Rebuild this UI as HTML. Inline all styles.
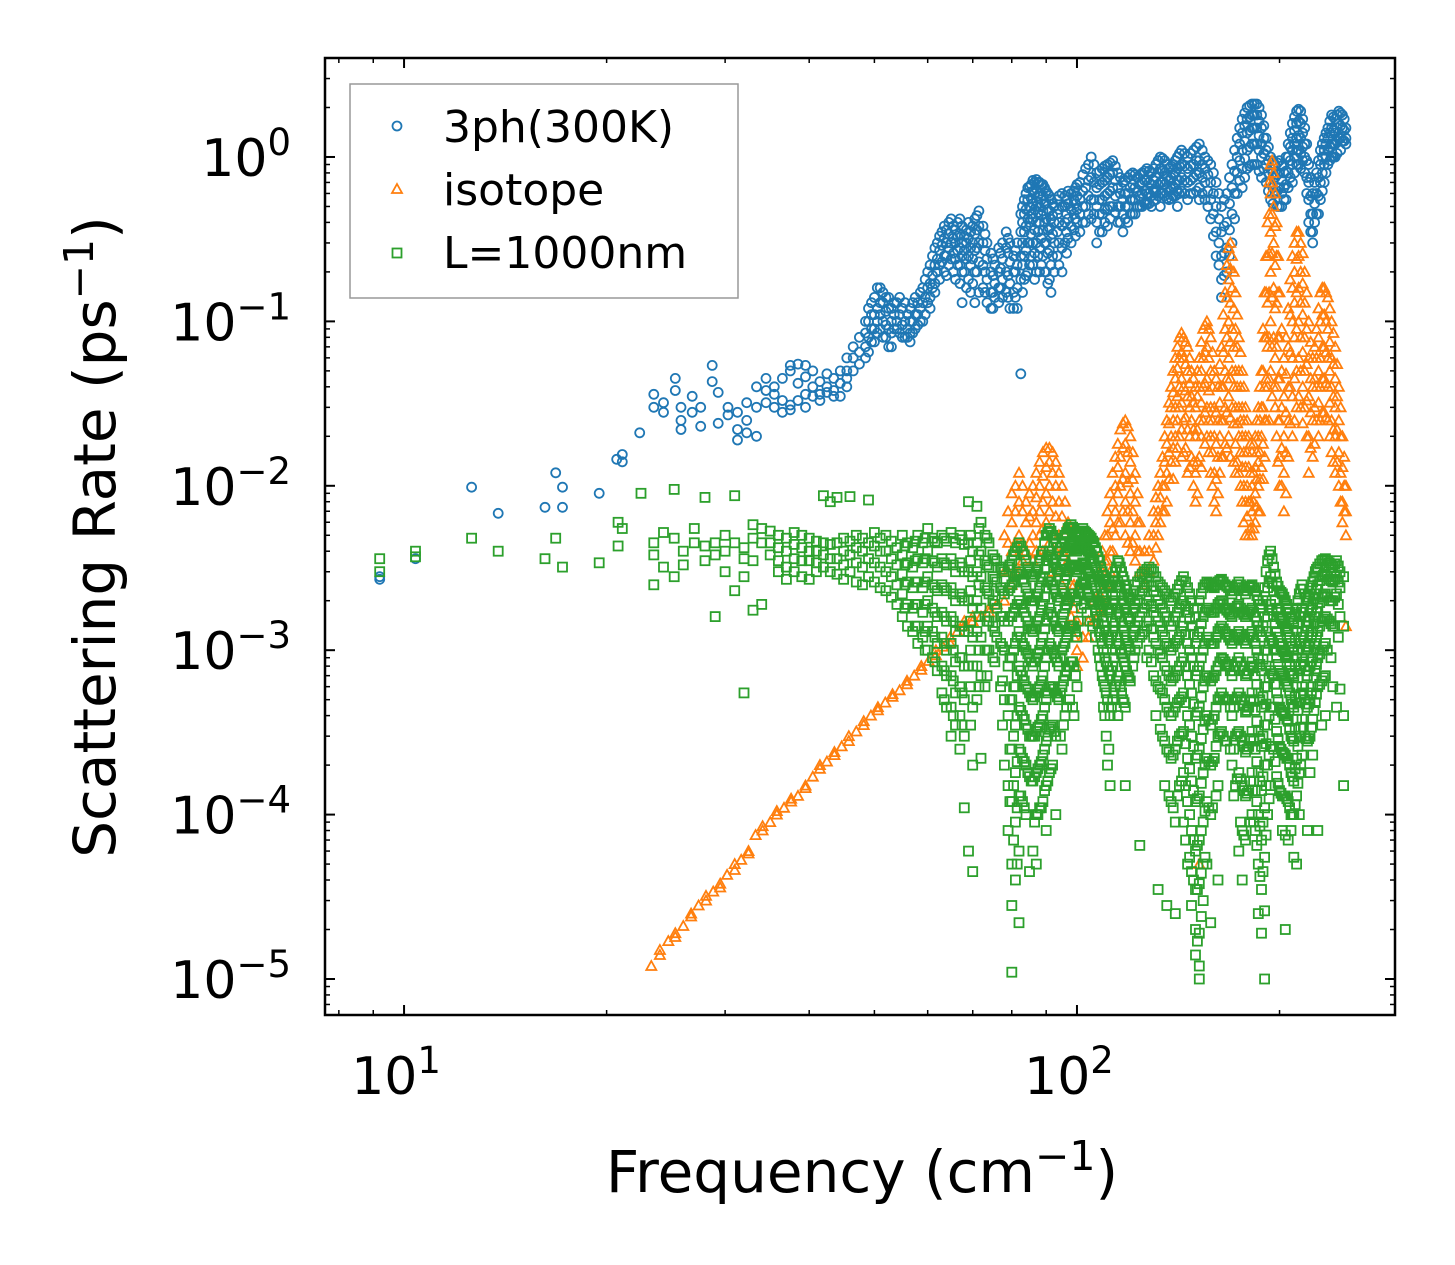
<!DOCTYPE html>
<html><head><meta charset="utf-8"><style>
html,body{margin:0;padding:0;background:#fff;}
svg{display:block;font-family:"DejaVu Sans","Liberation Sans",sans-serif;}
</style></head><body>
<svg id="chart" width="1455" height="1265" viewBox="0 0 1455 1265" xmlns="http://www.w3.org/2000/svg">
<rect width="1455" height="1265" fill="#fff"/>
<g id="marks"></g>
<g id="ticks"></g>
<rect x="325" y="58" width="1070" height="957" fill="none" stroke="#000" stroke-width="2.5"/>
<text x="862" y="1192" font-size="58" text-anchor="middle">Frequency (cm<tspan dy="-22" font-size="41">−1</tspan><tspan dy="22">)</tspan></text>
<text transform="translate(115,537) rotate(-90)" font-size="58" text-anchor="middle">Scattering Rate (ps<tspan dy="-22" font-size="41">−1</tspan><tspan dy="22">)</tspan></text>
<g>
<rect x="350" y="84" width="388" height="214" fill="#fff" stroke="#999" stroke-width="1.5"/>
<circle cx="397" cy="126" r="4.5" fill="none" stroke="#1f77b4" stroke-width="1.8"/>
<text x="443" y="142" font-size="44">3ph(300K)</text>
<polygon points="397,184 402,193 392,193" fill="none" stroke="#ff7f0e" stroke-width="1.8"/>
<text x="443" y="205" font-size="44">isotope</text>
<rect x="392.5" y="248.5" width="9" height="9" fill="none" stroke="#2ca02c" stroke-width="1.8"/>
<text x="443" y="268" font-size="44">L=1000nm</text>
</g>
</svg>
<script>
const blueData=[[9.2,[2.8e-3,2.7e-3]],[10.4,[3.6e-3]],[12.6,[9.8e-3]],[13.8,[6.8e-3]],[16.2,[7.4e-3]],[16.8,[1.2e-2]],[17.2,[9.8e-3,7.4e-3]],[19.5,[9e-3]],[20.7,[1.45e-2]],[21.1,[1.55e-2,1.4e-2]],[22.4,[0.021]],[23.5,[0.03,0.036]],[24.3,[0.032,0.028]],[25.3,[0.045,0.038]],[25.8,[0.025,0.03,0.022]],[26.8,[0.035,0.028]],[27.6,[0.023,0.03]],[28.7,[0.054,0.043]],[29.3,[0.024,0.037]],[30.3,[0.03,0.027]],[31.3,[0.022,0.019,0.028]],[32.3,[0.032,0.025,0.021]],[33.4,[0.04,0.03,0.02]],[34.5,[0.038,0.032,0.045]],[35.5,[0.04,0.036,0.03]],[36.5,[0.045,0.033,0.028]],[37.5,[0.054,0.05,0.031,0.029]],[38.5,[0.055,0.042,0.033]],[39.5,[0.054,0.046,0.036,0.03]],[40.5,[0.05,0.04,0.035]],[41.5,[0.043,0.036,0.033]],[42.5,[0.048,0.04,0.037]],[43.5,[0.045,0.038,0.035]],[44.5,[0.05,0.042,0.035]],[45.5,[0.06,0.05,0.045,0.04]],[46.5,[0.07,0.06,0.05]],[47.5,[0.08,0.065,0.055]],[48.5,[0.1,0.085,0.07,0.06]],[49.5,[0.13,0.11,0.09,0.075]],[50.5,[0.16,0.12,0.1,0.085]],[51.5,[0.15,0.13,0.1,0.08]],[52.5,[0.14,0.12,0.09,0.07]],[53.5,[0.13,0.11,0.09]],[54.5,[0.14,0.11,0.085]],[55.5,[0.13,0.1,0.08]],[56.5,[0.12,0.1,0.085,0.075]],[57.5,[0.14,0.11,0.09]],[58.5,[0.15,0.12,0.1]],[59.5,[0.18,0.14,0.11]],[60.5,[0.22,0.17,0.14,0.12]],[61.5,[0.28,0.22,0.17,0.15]],[62.5,[0.33,0.27,0.22,0.18]],[63.5,[0.38,0.32,0.25,0.2]],[64.5,[0.4,0.34,0.28,0.22]],[65.5,[0.38,0.32,0.26,0.2]],[66.5,[0.4,0.33,0.27,0.22]],[67.5,[0.38,0.3,0.25,0.2,0.13]],[68.5,[0.36,0.3,0.24,0.16]],[69.5,[0.35,0.28,0.22,0.15]],[70.5,[0.42,0.34,0.27,0.2,0.13]],[71.5,[0.47,0.38,0.3,0.23,0.15]],[72.5,[0.38,0.3,0.22,0.16]],[73.5,[0.3,0.24,0.18,0.13]],[74.5,[0.26,0.2,0.15,0.12]],[75.5,[0.22,0.17,0.14]],[76.5,[0.28,0.2,0.16,0.13]],[77.5,[0.3,0.24,0.18,0.14]],[78.5,[0.35,0.28,0.2,0.15]],[79.5,[0.3,0.23,0.17,0.12]],[80.5,[0.25,0.2,0.15,0.12]],[81.5,[0.3,0.22,0.16,0.12]],[82.5,[0.45,0.35,0.25,0.18,0.048]],[83.5,[0.55,0.45,0.35,0.25,0.18]],[84.5,[0.65,0.55,0.42,0.3,0.2]],[85.5,[0.68,0.56,0.45,0.34,0.25]],[86.5,[0.7,0.6,0.48,0.36,0.26,0.18]],[87.5,[0.7,0.58,0.46,0.35,0.25]],[88.5,[0.68,0.55,0.44,0.32,0.22]],[89.5,[0.65,0.52,0.4,0.3,0.2]],[90.5,[0.6,0.48,0.36,0.26,0.17]],[91.5,[0.55,0.42,0.32,0.22,0.15]],[92.5,[0.5,0.4,0.3,0.2]],[93.5,[0.55,0.45,0.35,0.25]],[95,[0.6,0.5,0.38,0.28,0.2]],[96.5,[0.55,0.45,0.35,0.26]],[98,[0.6,0.48,0.38,0.3]],[99.5,[0.65,0.52,0.42,0.33]],[101,[0.7,0.55,0.45,0.35]],[103,[0.85,0.65,0.5,0.4]],[105,[1.0,0.75,0.55,0.42]],[107,[0.8,0.65,0.5,0.4,0.3]],[109,[0.85,0.7,0.55,0.45,0.35]],[111,[0.9,0.75,0.6,0.48,0.38]],[113,[0.95,0.8,0.65,0.5]],[115,[0.8,0.65,0.5,0.4]],[117,[0.7,0.55,0.45,0.35]],[119,[0.75,0.6,0.5,0.4]],[121,[0.8,0.68,0.55,0.45]],[123,[0.75,0.62,0.5]],[125,[0.8,0.7,0.6,0.5]],[127,[0.85,0.72,0.6,0.52]],[129,[0.8,0.68,0.58,0.5]],[131,[0.9,0.75,0.62,0.55]],[133,[1.0,0.85,0.7,0.6,0.5]],[135,[0.95,0.8,0.68,0.58]],[137,[0.85,0.72,0.62,0.55]],[139,[0.9,0.78,0.66,0.58]],[141,[1.0,0.85,0.72,0.62,0.5]],[143,[1.1,0.9,0.75,0.62]],[146,[1.0,0.85,0.7,0.55]],[149,[1.1,0.9,0.75,0.6]],[152,[1.2,0.95,0.8,0.65,0.55]],[155,[1.0,0.85,0.7,0.55]],[158,[0.9,0.7,0.55,0.42]],[161,[0.7,0.5,0.35,0.25]],[164,[0.5,0.35,0.25,0.18,0.14]],[167,[0.6,0.4,0.28,0.2]],[170,[0.9,0.65,0.45,0.3]],[173,[1.3,1.0,0.8,0.6]],[176,[1.7,1.4,1.1,0.85,0.65]],[179,[2.0,1.7,1.4,1.1,0.85]],[182,[2.1,1.8,1.5,1.2,0.9]],[185,[2.1,1.8,1.5,1.2,0.9]],[188,[1.8,1.5,1.2,1.0,0.75]],[191,[1.3,1.1,0.9,0.7]],[194,[1.0,0.85,0.7,0.55]],[197,[0.9,0.75,0.6]],[200,[0.95,0.8,0.65,0.5]],[203,[0.8,0.65,0.55]],[206,[1.2,1.0,0.8,0.65]],[209,[1.6,1.3,1.1,0.9,0.7]],[212,[1.9,1.6,1.3,1.1,0.9]],[215,[1.9,1.6,1.3,1.05,0.85]],[218,[1.5,1.2,1.0,0.8]],[221,[0.9,0.7,0.55,0.4]],[224,[0.6,0.45,0.35,0.3]],[227,[0.8,0.6,0.45]],[230,[1.1,0.9,0.7,0.55]],[233,[1.3,1.1,0.9,0.7]],[236,[1.5,1.3,1.1,0.9]],[239,[1.8,1.5,1.2,1.0]],[242,[1.7,1.4,1.2,1.0]],[245,[1.9,1.6,1.3]],[248,[1.8,1.5,1.25]],[251,[1.5,1.3,1.2]]];
const blueExtra=[[49,[0.12,0.1,0.08,0.065]],[50,[0.14,0.11,0.09,0.075]],[51,[0.16,0.13,0.11,0.09]],[52,[0.14,0.115,0.095,0.08]],[53,[0.12,0.1,0.085,0.07]],[54,[0.13,0.1,0.09]],[55,[0.12,0.095,0.08]],[56,[0.11,0.09,0.08]],[57,[0.13,0.1,0.085]],[58,[0.13,0.11,0.095]],[59,[0.16,0.13,0.1]],[60,[0.2,0.16,0.13]],[61,[0.25,0.19,0.16]],[62,[0.3,0.24,0.2]],[63,[0.35,0.29,0.23]],[64,[0.36,0.3,0.25,0.19]],[65,[0.42,0.3,0.24]],[66,[0.36,0.3,0.24,0.18]],[67,[0.42,0.34,0.28,0.22,0.17]],[68,[0.33,0.27,0.2]],[69,[0.4,0.32,0.25,0.18]],[70,[0.38,0.3,0.24,0.17]],[71,[0.44,0.36,0.28,0.2]],[73,[0.34,0.27,0.2,0.15]],[75,[0.24,0.19,0.15,0.12]],[77,[0.26,0.21,0.16]],[79,[0.32,0.26,0.19,0.14]],[81,[0.27,0.2,0.14]],[83,[0.5,0.4,0.3,0.22,0.15]],[84,[0.6,0.48,0.38,0.27,0.19]],[85,[0.66,0.5,0.4,0.3,0.22]],[86,[0.72,0.62,0.52,0.42,0.3,0.22]],[87,[0.73,0.64,0.5,0.4,0.3,0.2]],[88,[0.7,0.6,0.5,0.4,0.28,0.2]],[89,[0.68,0.58,0.47,0.36,0.25]],[90,[0.62,0.52,0.42,0.3,0.2]],[91,[0.58,0.47,0.37,0.27,0.18]],[92,[0.52,0.44,0.34,0.25]],[94,[0.58,0.48,0.4,0.3,0.22]],[96,[0.58,0.5,0.4,0.3]],[97,[0.62,0.52,0.42,0.32]],[99,[0.62,0.55,0.45,0.36]],[100,[0.68,0.58,0.48,0.4]],[102,[0.78,0.62,0.5,0.4]],[104,[0.9,0.72,0.58,0.45]],[106,[0.9,0.7,0.55,0.45]],[108,[0.82,0.68,0.55,0.45,0.35]],[110,[0.88,0.72,0.58,0.48,0.4]],[112,[0.92,0.78,0.62,0.5,0.42]],[114,[0.88,0.72,0.58,0.46]],[116,[0.75,0.6,0.5,0.4]],[118,[0.72,0.6,0.5,0.42]],[120,[0.78,0.65,0.55,0.45]],[122,[0.78,0.65,0.55,0.45]],[124,[0.78,0.68,0.58,0.5]],[126,[0.82,0.72,0.62,0.52]],[128,[0.82,0.7,0.6,0.52]],[130,[0.85,0.72,0.62,0.54]],[132,[0.95,0.8,0.68,0.58]],[134,[0.98,0.82,0.7,0.6]],[136,[0.9,0.76,0.65,0.56]],[138,[0.88,0.75,0.64,0.56]],[140,[0.95,0.8,0.68,0.58]],[142,[1.05,0.88,0.72,0.6]],[144.5,[1.05,0.88,0.72,0.6]],[147.5,[1.05,0.88,0.72,0.6]],[150.5,[1.15,0.95,0.78,0.62]],[153.5,[1.1,0.9,0.75,0.6]],[156.5,[0.95,0.78,0.62,0.5]],[159.5,[0.8,0.6,0.45,0.33]],[162.5,[0.6,0.42,0.3,0.22]],[165.5,[0.55,0.38,0.26,0.19]],[168.5,[0.75,0.52,0.36,0.25]],[171.5,[1.1,0.82,0.6,0.42]],[174.5,[1.5,1.2,0.95,0.72]],[177.5,[1.85,1.55,1.25,0.98,0.75]],[180.5,[2.05,1.75,1.45,1.15,0.88]],[183.5,[2.1,1.8,1.5,1.2,0.9]],[186.5,[2.0,1.65,1.35,1.1,0.82]],[189.5,[1.55,1.3,1.05,0.85]],[192.5,[1.15,0.95,0.8,0.62]],[195.5,[0.95,0.8,0.65,0.52]],[198.5,[0.92,0.78,0.62,0.5]],[201.5,[0.88,0.72,0.6,0.5]],[204.5,[1.0,0.82,0.68,0.55]],[207.5,[1.4,1.15,0.95,0.75]],[210.5,[1.75,1.45,1.2,1.0,0.8]],[213.5,[1.95,1.65,1.35,1.1,0.9]],[216.5,[1.7,1.4,1.15,0.95]],[219.5,[1.2,0.95,0.75,0.6]],[222.5,[0.75,0.58,0.45,0.35]],[225.5,[0.7,0.52,0.4]],[228.5,[0.95,0.75,0.58,0.45]],[231.5,[1.2,1.0,0.8,0.62]],[234.5,[1.4,1.2,1.0,0.8]],[237.5,[1.65,1.4,1.15,0.95]],[240.5,[1.75,1.45,1.2,1.0]],[243.5,[1.8,1.5,1.25,1.05]],[246.5,[1.85,1.55,1.3,1.1]],[249.5,[1.7,1.45,1.25]]];
const orangeData=[[23.3,[1.2e-5]],[24.0,[1.4e-5,1.5e-5]],[24.7,[1.7e-5]],[25.3,[1.9e-5,1.8e-5]],[26,[2.1e-5]],[26.7,[2.4e-5,2.5e-5]],[27.4,[2.8e-5]],[28.1,[3.0e-5,3.2e-5]],[28.8,[3.4e-5]],[29.5,[3.6e-5,3.8e-5]],[30.2,[4.3e-5]],[31,[4.6e-5,5e-5]],[31.7,[5.3e-5]],[32.5,[6e-5,5.8e-5]],[33.3,[7.5e-5]],[34.1,[8e-5,8.5e-5]],[35,[9e-5]],[35.8,[1.0e-4,1.05e-4]],[36.7,[1.1e-4]],[37.6,[1.2e-4,1.25e-4]],[38.5,[1.3e-4]],[39.5,[1.45e-4,1.5e-4]],[40.5,[1.7e-4]],[41.5,[1.9e-4,2e-4]],[42.5,[2.1e-4]],[43.6,[2.3e-4,2.4e-4]],[44.7,[2.6e-4]],[45.8,[2.8e-4,3e-4]],[47,[3.2e-4]],[48.2,[3.5e-4,3.7e-4]],[49.4,[4e-4]],[50.6,[4.3e-4,4.5e-4]],[51.9,[4.8e-4]],[53.2,[5.2e-4,5.4e-4]],[54.5,[5.7e-4]],[55.9,[6.2e-4,6.5e-4]],[57.3,[7e-4]],[58.7,[7.6e-4,8e-4]],[60.2,[8.6e-4]],[61.7,[9.3e-4,1e-3]],[63.2,[1.05e-3]],[64.8,[1.1e-3,1.2e-3]],[66.4,[1.3e-3]],[68,[1.4e-3,1.5e-3]],[70,[1.5e-3,1.6e-3]],[72,[1.6e-3]],[74,[1.7e-3,1.8e-3]],[76,[1.9e-3]],[78,[2e-3,3e-3,5e-3]],[80,[9e-3,6e-3,4e-3,2.5e-3]],[82,[1.2e-2,8e-3,5e-3,3e-3]],[84,[8e-3,6e-3,4e-3]],[86,[1.0e-2,7e-3,5e-3,3.5e-3]],[88,[1.4e-2,1.0e-2,7e-3,5e-3]],[90,[1.7e-2,1.3e-2,9e-3,6e-3,4e-3]],[92,[1.6e-2,1.2e-2,8e-3,5e-3,3e-3]],[94,[1.2e-2,8e-3,5e-3,3e-3]],[96,[8e-3,5e-3,3e-3,2e-3]],[98,[4e-3,2.5e-3,1.6e-3]],[100,[1.5e-3,1.0e-3,8e-4]],[102,[1.2e-3,9e-4]],[104,[1.5e-3,1.2e-3]],[106,[2e-3,1.5e-3]],[108,[3e-3,2.2e-3,1.7e-3]],[110,[5e-3,3.5e-3,2.5e-3]],[112,[9e-3,6e-3,4e-3,3e-3]],[114,[1.5e-2,1e-2,7e-3,5e-3]],[116,[2.2e-2,1.5e-2,1e-2,6e-3]],[118,[2.5e-2,1.8e-2,1.2e-2,8e-3,5e-3]],[120,[2.0e-2,1.4e-2,9e-3,6e-3,4e-3]],[122,[1.2e-2,8e-3,5e-3,3.5e-3]],[124,[6e-3,4e-3,3e-3]],[126,[4e-3,3e-3,2.5e-3]],[128,[5e-3,4e-3,3e-3]],[130,[7e-3,5e-3,3.5e-3]],[132,[1e-2,7e-3,5e-3]],[134,[1.5e-2,1e-2,7e-3]],[136,[2.5e-2,1.8e-2,1.2e-2,8e-3]],[138,[4e-2,3e-2,2e-2,1.4e-2]],[140,[6e-2,4.5e-2,3e-2,2e-2,1.4e-2]],[142,[8e-2,6e-2,4e-2,3e-2,2e-2]],[144,[8e-2,6e-2,4e-2,2.5e-2,1.6e-2]],[146,[7e-2,5e-2,3.5e-2,2.2e-2,1.2e-2]],[148,[5e-2,3.5e-2,2.5e-2,1.5e-2]],[150,[4e-2,3e-2,2e-2,1.2e-2,8e-3]],[152,[6e-2,4e-2,2.5e-2,1.5e-2,5e-5]],[154,[9e-2,6e-2,4e-2,2.5e-2]],[156,[1e-1,7e-2,4.5e-2,3e-2,2e-2]],[158,[8e-2,5e-2,3e-2,2e-2,1.2e-2]],[160,[5e-2,3e-2,2e-2,1.2e-2,8e-3]],[162,[4e-2,2.5e-2,1.5e-2,9e-3]],[164,[7e-2,4e-2,2.5e-2,1.5e-2]],[166,[1.5e-1,9e-2,5e-2,3e-2,1.8e-2]],[168,[2.8e-1,1.8e-1,1e-1,6e-2,3.5e-2,2e-2]],[170,[2.5e-1,1.6e-1,9e-2,5e-2,3e-2]],[172,[1.5e-1,9e-2,5e-2,3e-2,1.8e-2,1.2e-2]],[174,[8e-2,5e-2,3e-2,2e-2,1.2e-2]],[176,[5e-2,3e-2,2e-2,1.3e-2,8e-3]],[178,[3e-2,2e-2,1.3e-2,8e-3,5e-3]],[180,[2e-2,1.3e-2,8e-3,5e-3]],[182,[1.6e-2,1e-2,7e-3,5e-3]],[184,[2e-2,1.3e-2,9e-3,6e-3]],[186,[3e-2,2e-2,1.4e-2,1e-2,7e-3]],[188,[5e-2,3e-2,2e-2,1.3e-2]],[190,[1.5e-1,8e-2,4e-2,2.5e-2,1.5e-2]],[192,[4e-1,2.5e-1,1.3e-1,7e-2,4e-2]],[194,[9e-1,6e-1,3.5e-1,2e-1,1e-1,5e-2]],[196,[8e-1,5e-1,3e-1,1.6e-1,8e-2,4e-2]],[198,[4e-1,2.5e-1,1.3e-1,7e-2,4e-2,2e-2]],[200,[1.5e-1,8e-2,4.5e-2,2.5e-2,1.5e-2,1e-2]],[203,[6e-2,3.5e-2,2e-2,1.2e-2,7e-3]],[206,[1.2e-1,7e-2,4e-2,2.5e-2,1.5e-2]],[209,[2.5e-1,1.6e-1,1e-1,6e-2,3.5e-2,2e-2]],[212,[3.5e-1,2.4e-1,1.5e-1,9e-2,5e-2,3e-2]],[215,[3e-1,2e-1,1.3e-1,8e-2,5e-2,3e-2]],[218,[2e-1,1.3e-1,8e-2,5e-2,3e-2]],[221,[1e-1,6e-2,3.5e-2,2e-2,1.2e-2]],[224,[6e-2,4e-2,2.5e-2,1.5e-2]],[227,[9e-2,6e-2,4e-2,2.5e-2]],[230,[1.5e-1,1e-1,6e-2,4e-2,2.5e-2]],[233,[1.6e-1,1.1e-1,7e-2,4.5e-2,2.8e-2]],[236,[1.4e-1,9e-2,6e-2,4e-2,2.5e-2]],[239,[1e-1,6e-2,4e-2,2.5e-2,1.6e-2]],[242,[7e-2,4.5e-2,3e-2,2e-2,1.2e-2]],[245,[4e-2,2.5e-2,1.6e-2,1e-2]],[248,[2e-2,1.3e-2,8e-3,6e-3]],[251,[1e-2,7e-3,5e-3,1.4e-3]]];
const orangeExtra=[[79,[7e-3,4.5e-3,3e-3]],[81,[1e-2,7e-3,4.5e-3,3e-3]],[83,[1e-2,7e-3,4.5e-3,3.5e-3]],[85,[9e-3,6.5e-3,4.5e-3]],[87,[1.2e-2,8.5e-3,6e-3,4e-3]],[89,[1.6e-2,1.15e-2,8e-3,5.5e-3,4e-3]],[91,[1.7e-2,1.4e-2,1e-2,7e-3,4.5e-3]],[93,[1.4e-2,1e-2,6.5e-3,4e-3]],[95,[1e-2,6.5e-3,4e-3,2.5e-3]],[97,[6e-3,3.5e-3,2.2e-3]],[99,[2.5e-3,1.8e-3,1.2e-3]],[109,[4e-3,3e-3,2e-3]],[111,[7e-3,5e-3,3.5e-3,2.5e-3]],[113,[1.2e-2,8e-3,5.5e-3,4e-3]],[115,[1.8e-2,1.3e-2,9e-3,6e-3]],[117,[2.4e-2,1.7e-2,1.1e-2,7e-3]],[119,[2.3e-2,1.6e-2,1.05e-2,7e-3,4.5e-3]],[121,[1.6e-2,1.1e-2,7e-3,4.5e-3]],[123,[9e-3,6e-3,4e-3]],[131,[8.5e-3,6e-3,4.2e-3]],[133,[1.2e-2,8.5e-3,6e-3]],[135,[2e-2,1.4e-2,1e-2,7e-3]],[137,[3.2e-2,2.4e-2,1.6e-2,1.1e-2]],[139,[5e-2,3.7e-2,2.5e-2,1.7e-2,1.1e-2]],[141,[7e-2,5.2e-2,3.5e-2,2.5e-2,1.7e-2]],[143,[8.5e-2,6.5e-2,4.5e-2,3.2e-2,2.2e-2,1.5e-2]],[145,[7.5e-2,5.5e-2,3.8e-2,2.6e-2,1.7e-2]],[147,[6e-2,4.2e-2,3e-2,2e-2,1.3e-2]],[149,[4.5e-2,3.2e-2,2.2e-2,1.4e-2,1e-2]],[151,[5e-2,3.5e-2,2.2e-2,1.4e-2,9e-3]],[153,[7.5e-2,5e-2,3.2e-2,2e-2,1.3e-2]],[155,[9.5e-2,6.5e-2,4.2e-2,2.8e-2,1.8e-2]],[157,[9e-2,6e-2,3.8e-2,2.5e-2,1.6e-2]],[159,[6.5e-2,4e-2,2.5e-2,1.6e-2,1e-2]],[161,[4.5e-2,2.8e-2,1.8e-2,1.1e-2,7e-3]],[163,[5.5e-2,3.2e-2,2e-2,1.2e-2]],[165,[1.1e-1,6.5e-2,4e-2,2.5e-2,1.5e-2]],[167,[2.2e-1,1.4e-1,8e-2,4.5e-2,2.8e-2,1.7e-2]],[169,[3e-1,2.1e-1,1.3e-1,7.5e-2,4.5e-2,2.6e-2,1.5e-2]],[171,[2e-1,1.2e-1,7e-2,4e-2,2.4e-2,1.4e-2]],[173,[1.1e-1,7e-2,4e-2,2.4e-2,1.4e-2]],[175,[6.5e-2,4e-2,2.5e-2,1.6e-2,1e-2]],[177,[4e-2,2.5e-2,1.6e-2,1e-2,6e-3]],[179,[2.5e-2,1.6e-2,1e-2,6.5e-3]],[181,[1.8e-2,1.2e-2,8e-3,5.5e-3]],[183,[1.8e-2,1.2e-2,8e-3,5.5e-3]],[185,[2.5e-2,1.6e-2,1.1e-2,7.5e-3]],[187,[4e-2,2.5e-2,1.6e-2,1.1e-2,7e-3]],[189,[9e-2,5e-2,3e-2,1.8e-2,1.1e-2]],[191,[2.5e-1,1.5e-1,8e-2,4.5e-2,2.5e-2]],[193,[7e-1,4.5e-1,2.6e-1,1.5e-1,8e-2,4.5e-2,2.5e-2]],[195,[9.5e-1,7e-1,4.5e-1,2.6e-1,1.4e-1,7e-2,3.5e-2]],[197,[6e-1,3.8e-1,2.2e-1,1.2e-1,6e-2,3e-2]],[199,[2.5e-1,1.5e-1,8e-2,4.5e-2,2.5e-2,1.4e-2]],[201.5,[9e-2,5e-2,3e-2,1.7e-2,1e-2]],[204.5,[8e-2,4.8e-2,2.8e-2,1.6e-2,9e-3]],[207.5,[1.8e-1,1.1e-1,6.5e-2,4e-2,2.4e-2]],[210.5,[3e-1,2e-1,1.3e-1,8e-2,4.5e-2,2.5e-2]],[213.5,[3.5e-1,2.5e-1,1.6e-1,1e-1,6e-2,3.5e-2]],[216.5,[2.6e-1,1.7e-1,1.1e-1,6.5e-2,4e-2,2.4e-2]],[219.5,[1.5e-1,9e-2,5.5e-2,3.3e-2,2e-2]],[222.5,[7.5e-2,4.5e-2,2.8e-2,1.7e-2]],[225.5,[7e-2,4.5e-2,3e-2,1.8e-2]],[228.5,[1.2e-1,8e-2,5e-2,3.2e-2,2e-2]],[231.5,[1.6e-1,1.1e-1,7e-2,4.5e-2,2.8e-2]],[234.5,[1.5e-1,1e-1,6.5e-2,4.2e-2,2.6e-2]],[237.5,[1.2e-1,7.5e-2,5e-2,3.2e-2,2e-2]],[240.5,[8.5e-2,5.5e-2,3.5e-2,2.2e-2,1.4e-2]],[243.5,[5.5e-2,3.5e-2,2.2e-2,1.4e-2]],[246.5,[3e-2,2e-2,1.2e-2,8e-3]],[249.5,[1.5e-2,1e-2,7e-3]]];
const greenData=[[9.2,[3.6e-3,3.0e-3]],[10.4,[4.0e-3,3.7e-3]],[12.6,[4.8e-3]],[13.8,[4.0e-3]],[16.2,[3.6e-3]],[16.8,[4.8e-3]],[17.2,[3.2e-3]],[19.5,[3.4e-3]],[20.8,[6e-3,4.3e-3]],[21.1,[5.5e-3]],[22.5,[9e-3]],[23.5,[4.5e-3,3.8e-3,2.5e-3]],[24.3,[5.2e-3,3.2e-3]],[25.2,[9.5e-3,4.8e-3,2.8e-3]],[26,[4e-3,3.3e-3]],[27,[5.5e-3,4.5e-3]],[28,[4.3e-3,3.5e-3,8.5e-3]],[29,[4.5e-3,3.8e-3,1.6e-3]],[30,[5e-3,4e-3,3e-3]],[31,[8.7e-3,4.5e-3,2.3e-3]],[32,[4.2e-3,3.6e-3,2.8e-3,5.5e-4]],[33,[5.8e-3,4.8e-3,3.5e-3,1.75e-3]],[34,[5.5e-3,4.5e-3,1.9e-3]],[35,[5.3e-3,4.5e-3,3.8e-3]],[36,[5e-3,4.2e-3,3.5e-3,3e-3]],[37,[4.8e-3,4e-3,3.2e-3,2.7e-3]],[38,[5.2e-3,4.4e-3,3.6e-3,3e-3]],[39,[5e-3,4.2e-3,3.5e-3,2.8e-3]],[40,[4.8e-3,4e-3,3.5e-3,2.7e-3]],[41,[4.6e-3,4e-3,3.4e-3,3e-3]],[42,[8.7e-3,4.5e-3,3.8e-3,3.2e-3]],[43,[8e-3,4.4e-3,3.6e-3,3e-3]],[44,[8.5e-3,4.5e-3,3.6e-3,2.9e-3]],[45,[4.8e-3,4e-3,3.3e-3,2.7e-3]],[46,[8.6e-3,4.6e-3,3.8e-3,3e-3]],[47,[5e-3,4.2e-3,3.4e-3,2.6e-3]],[48,[4.8e-3,4e-3,3.2e-3,2.5e-3]],[49,[8.2e-3,4.5e-3,3.6e-3,2.8e-3]],[50,[5.2e-3,4.3e-3,3.4e-3,2.6e-3]],[51,[4.8e-3,4e-3,3.2e-3,2.4e-3]],[52,[5e-3,4e-3,3e-3,2.3e-3]],[53,[4.6e-3,3.6e-3,2.8e-3,2.1e-3]],[54,[4.2e-3,3.3e-3,2.5e-3,1.9e-3]],[55,[5e-3,3.8e-3,2.9e-3,2.2e-3,1.6e-3]],[56,[4.5e-3,3.4e-3,2.6e-3,1.9e-3,1.4e-3]],[57,[4.2e-3,3.2e-3,2.4e-3,1.8e-3,1.3e-3]],[58,[5e-3,3.6e-3,2.6e-3,1.9e-3,1.4e-3,1.1e-3]],[59,[4.5e-3,3.4e-3,2.4e-3,1.7e-3,1.2e-3]],[60,[5.5e-3,4e-3,2.8e-3,2e-3,1.4e-3,1e-3]],[61,[4.8e-3,3.5e-3,2.5e-3,1.8e-3,1.3e-3,9e-4]],[62,[4.5e-3,3.2e-3,2.3e-3,1.6e-3,1.1e-3,7.5e-4]],[63,[5e-3,3.6e-3,2.5e-3,1.7e-3,1.2e-3,8e-4,5.5e-4]],[64,[4.6e-3,3.3e-3,2.3e-3,1.5e-3,1e-3,7e-4,4.5e-4]],[65,[5.2e-3,3.6e-3,2.4e-3,1.6e-3,1.1e-3,7e-4,4.5e-4,3e-4]],[66,[4.5e-3,3e-3,2e-3,1.3e-3,8.5e-4,5.5e-4,3.5e-4]],[67,[5e-3,3.4e-3,2.2e-3,1.4e-3,9e-4,6e-4,4e-4,2.5e-4]],[68,[4.4e-3,3e-3,2e-3,1.3e-3,8e-4,5e-4,3e-4,1.1e-4]],[69,[8e-3,4.5e-3,3e-3,2e-3,1.3e-3,8e-4,6e-5]],[70,[4e-3,2.8e-3,1.8e-3,1.2e-3,8e-4,4.5e-4,2e-4,4.5e-5]],[71,[7.5e-3,4.5e-3,3e-3,2e-3,1.3e-3,8e-4,5e-4]],[72,[6e-3,4e-3,2.8e-3,1.8e-3,1.2e-3,7e-4,2.2e-4]],[73,[5e-3,3.5e-3,2.4e-3,1.6e-3,1e-3,6e-4]],[74,[4.5e-3,3.2e-3,2.2e-3,1.5e-3,1e-3]],[75,[3.8e-3,2.8e-3,2e-3,1.4e-3,9e-4]],[76,[3.5e-3,2.6e-3,1.8e-3,1.2e-3]],[77,[3.2e-3,2.4e-3,1.6e-3,1.1e-3,6e-4]],[78,[3e-3,2.2e-3,1.5e-3,1e-3,5e-4,2e-4]],[79,[3.2e-3,2.3e-3,1.5e-3,8e-4,4e-4,1.5e-4,8e-5]],[80,[3.5e-3,2.5e-3,1.6e-3,9e-4,5e-4,2.5e-4,1.2e-4,5e-5,2.8e-5,1.1e-5]],[81,[4e-3,2.8e-3,1.8e-3,1.1e-3,6e-4,3.5e-4,1.8e-4,9e-5,4e-5]],[82,[4.5e-3,3e-3,2e-3,1.3e-3,8e-4,4.5e-4,2.5e-4,1.3e-4,6e-5,2.2e-5]],[83,[4e-3,2.7e-3,1.8e-3,1.1e-3,7e-4,4e-4,2.2e-4,1.2e-4]],[84,[3.5e-3,2.4e-3,1.6e-3,1e-3,6e-4,3.5e-4,2e-4,1e-4]],[85,[3e-3,2.1e-3,1.4e-3,9e-4,5.5e-4,3e-4,1.7e-4,4.5e-5]],[86,[2.8e-3,2e-3,1.3e-3,8e-4,5e-4,3e-4,1.6e-4,6e-5]],[87,[3e-3,2.1e-3,1.4e-3,9e-4,5.5e-4,3.2e-4,1.8e-4,1e-4,5e-5]],[88,[3.5e-3,2.4e-3,1.6e-3,1e-3,6e-4,3.5e-4,2e-4,1.1e-4]],[89,[4e-3,2.8e-3,1.9e-3,1.2e-3,7e-4,4e-4,2.3e-4,1.2e-4]],[90,[5e-3,3.5e-3,2.4e-3,1.5e-3,9e-4,5e-4,2.8e-4,1.5e-4,8e-5]],[91,[5.5e-3,4e-3,2.8e-3,1.8e-3,1.1e-3,6e-4,3.3e-4,1.8e-4]],[92,[5e-3,3.6e-3,2.5e-3,1.6e-3,1e-3,6e-4,3.5e-4,2e-4]],[93,[4.5e-3,3.2e-3,2.2e-3,1.4e-3,9e-4,5.5e-4,3e-4,1e-4]],[94,[4e-3,3e-3,2e-3,1.3e-3,8e-4,5e-4]],[95,[4.5e-3,3.3e-3,2.3e-3,1.5e-3,1e-3,6e-4,2.5e-4]],[96,[5e-3,3.8e-3,2.7e-3,1.8e-3,1.1e-3,7e-4,4e-4]],[97,[5.5e-3,4.2e-3,3e-3,2e-3,1.3e-3,8e-4]],[98,[5.8e-3,4.5e-3,3.3e-3,2.2e-3,1.4e-3,8.5e-4]],[99,[5.5e-3,4.3e-3,3.2e-3,2.2e-3,1.4e-3,8e-4,4e-4]],[100,[5e-3,4e-3,3e-3,2e-3,1.2e-3,6e-4]],[101,[5.2e-3,4.2e-3,3.2e-3,2.4e-3]],[102,[5.5e-3,4.4e-3,3.4e-3,2.6e-3]],[103,[5.2e-3,4.2e-3,3.3e-3,2.5e-3]],[104,[5e-3,4e-3,3e-3,2.2e-3]],[105,[4.8e-3,3.8e-3,2.8e-3,2e-3]],[106,[4.5e-3,3.5e-3,2.6e-3,1.9e-3]],[107,[4e-3,3e-3,2.2e-3,1.6e-3]],[108,[3.5e-3,2.6e-3,1.9e-3,1.3e-3,9e-4]],[109,[3e-3,2.2e-3,1.6e-3,1.1e-3,7e-4]],[110,[2.7e-3,2e-3,1.4e-3,9e-4,6e-4,4e-4]],[111,[2.5e-3,1.8e-3,1.2e-3,8e-4,5e-4,2e-4]],[112,[2.4e-3,1.7e-3,1.1e-3,7e-4,4e-4,1.5e-4]],[113,[2.6e-3,1.9e-3,1.3e-3,8e-4,5e-4]],[114,[3e-3,2.2e-3,1.5e-3,1e-3,6e-4]],[115,[3.5e-3,2.6e-3,1.8e-3,1.2e-3,7e-4,4e-4]],[116,[3.2e-3,2.4e-3,1.6e-3,1e-3,6e-4]],[117,[2.8e-3,2e-3,1.4e-3,9e-4,5e-4]],[118,[2.5e-3,1.8e-3,1.2e-3,8e-4,4.5e-4,1.5e-4]],[119,[2.2e-3,1.6e-3,1.1e-3,7e-4]],[120,[2e-3,1.5e-3,1e-3,6.5e-4]],[121,[2.2e-3,1.7e-3,1.2e-3,8e-4]],[122,[2.5e-3,1.9e-3,1.4e-3,1e-3]],[124,[2.8e-3,2.2e-3,1.6e-3,1.2e-3,6.5e-5]],[126,[3e-3,2.4e-3,1.8e-3,1.3e-3]],[128,[3.2e-3,2.6e-3,2e-3,1.5e-3,1e-3]],[130,[3e-3,2.3e-3,1.7e-3,1.2e-3,7e-4]],[132,[2.6e-3,2e-3,1.5e-3,1e-3,6e-4,3.5e-5]],[134,[2.4e-3,1.8e-3,1.3e-3,9e-4,5.5e-4,3e-4]],[136,[2.2e-3,1.6e-3,1.1e-3,7.5e-4,4.5e-4,2.5e-4,2.8e-5]],[138,[2e-3,1.4e-3,1e-3,6.5e-4,4e-4,2.2e-4,1.2e-4]],[140,[2.2e-3,1.6e-3,1.1e-3,7e-4,4.5e-4,2.5e-4,9e-5,2.5e-5]],[142,[2.5e-3,1.8e-3,1.2e-3,8e-4,5e-4,3e-4,1.5e-4]],[144,[2.8e-3,2e-3,1.4e-3,9e-4,5.5e-4,3.2e-4,1.8e-4,9e-5]],[146,[2.4e-3,1.7e-3,1.1e-3,7e-4,4e-4,2.2e-4,1.2e-4,5e-5]],[148,[2e-3,1.4e-3,9e-4,5.5e-4,3e-4,1.6e-4,8e-5,4.5e-5,2.8e-5]],[150,[1.6e-3,1.1e-3,7e-4,4e-4,2.2e-4,1.2e-4,6e-5,3.5e-5,2e-5,1.4e-5]],[152,[2e-3,1.3e-3,8e-4,4.5e-4,2.5e-4,1.3e-4,7e-5,3.8e-5,1.9e-5,1.2e-5,1e-5]],[154,[2.4e-3,1.6e-3,1e-3,6e-4,3.3e-4,1.8e-4,9e-5,5e-5,3e-5]],[156,[2.6e-3,1.8e-3,1.2e-3,7e-4,4e-4,2.2e-4,1.2e-4,5e-5]],[158,[2.5e-3,1.7e-3,1.1e-3,6.5e-4,3.5e-4,2e-4,1e-4,2.2e-5]],[160,[2.4e-3,1.7e-3,1.1e-3,7e-4,4e-4,2.2e-4]],[162,[2.6e-3,1.9e-3,1.3e-3,8e-4,5e-4,3e-4,1.5e-4,4e-5]],[164,[2.7e-3,2e-3,1.4e-3,9e-4,5.5e-4,3.2e-4]],[166,[2.5e-3,1.8e-3,1.3e-3,8.5e-4,5e-4,2.8e-4]],[168,[2.4e-3,1.7e-3,1.2e-3,8e-4,5e-4]],[170,[2.2e-3,1.6e-3,1.1e-3,7e-4,4e-4,2e-4]],[172,[2.4e-3,1.8e-3,1.2e-3,8e-4,5e-4,3e-4,1.5e-4]],[174,[2.6e-3,1.9e-3,1.3e-3,9e-4,5.5e-4,3.2e-4,1.8e-4,6e-5]],[176,[2.4e-3,1.7e-3,1.2e-3,8e-4,5e-4,2.8e-4,1.5e-4,8e-5,4e-5]],[178,[2.2e-3,1.6e-3,1.1e-3,7e-4,4.2e-4,2.4e-4,1.3e-4,7e-5]],[180,[2.4e-3,1.7e-3,1.2e-3,7.5e-4,4.5e-4,2.6e-4,1.4e-4]],[182,[2.5e-3,1.8e-3,1.3e-3,8.5e-4,5.5e-4,3.2e-4,1.8e-4,1e-4]],[184,[2.3e-3,1.6e-3,1.1e-3,7e-4,4.3e-4,2.5e-4,1.4e-4,8e-5]],[186,[2e-3,1.4e-3,9e-4,5.5e-4,3.2e-4,1.8e-4,1e-4,5e-5,2.5e-5]],[188,[1.8e-3,1.2e-3,7.5e-4,4.5e-4,2.6e-4,1.4e-4,7e-5,3.5e-5,1.9e-5]],[190,[2.4e-3,1.6e-3,1e-3,6e-4,3.5e-4,2e-4,1.1e-4,5.5e-5,2.6e-5,1e-5]],[192,[3.5e-3,2.4e-3,1.6e-3,1e-3,6e-4,3.5e-4,2e-4,1e-4]],[194,[4e-3,2.8e-3,1.9e-3,1.2e-3,7.5e-4,4.5e-4,2.6e-4,1.5e-4]],[196,[3.2e-3,2.3e-3,1.6e-3,1.1e-3,7e-4,4.5e-4,2.5e-4]],[198,[2.6e-3,1.8e-3,1.3e-3,9e-4,5.5e-4,3.2e-4,1.7e-4]],[200,[2.3e-3,1.6e-3,1.1e-3,7.5e-4,4.5e-4,2.6e-4,1.4e-4]],[202,[2.2e-3,1.5e-3,1e-3,7e-4,4.2e-4,2.4e-4,1.3e-4,8e-5]],[204,[2e-3,1.4e-3,9.5e-4,6.5e-4,4e-4,2.3e-4,1.3e-4,7.5e-5,2e-5]],[206,[1.8e-3,1.3e-3,9e-4,6e-4,3.7e-4,2.2e-4,1.2e-4,7e-5]],[208,[1.6e-3,1.1e-3,7.5e-4,5e-4,3e-4,1.8e-4,1e-4,8e-5]],[210,[1.5e-3,1e-3,7e-4,4.5e-4,2.8e-4,1.6e-4,1e-4,5.5e-5]],[212,[1.8e-3,1.3e-3,9e-4,6e-4,3.8e-4,2.2e-4,1.3e-4,5e-5]],[214,[2.2e-3,1.6e-3,1.1e-3,7.5e-4,4.8e-4,3e-4,1.8e-4,1e-4]],[216,[2.5e-3,1.8e-3,1.3e-3,9e-4,6e-4,3.8e-4,2.3e-4]],[218,[2.2e-3,1.6e-3,1.1e-3,8e-4,5e-4,3e-4]],[220,[2e-3,1.4e-3,1e-3,7e-4,4.5e-4,2.8e-4,8e-5]],[222,[2.2e-3,1.6e-3,1.1e-3,8e-4,5e-4,3e-4,1.8e-4]],[224,[2.6e-3,1.9e-3,1.3e-3,9e-4,6e-4,3.8e-4,2.3e-4]],[226,[3e-3,2.2e-3,1.6e-3,1.1e-3,7.5e-4,4.8e-4]],[228,[3.2e-3,2.5e-3,1.8e-3,1.3e-3,9e-4,6e-4,8e-5]],[231,[3.5e-3,2.8e-3,2.1e-3,1.5e-3,1e-3,6.5e-4,3.5e-4]],[234,[3.6e-3,2.9e-3,2.2e-3,1.6e-3,1.1e-3,7e-4,4e-4]],[237,[3.4e-3,2.7e-3,2e-3,1.5e-3]],[240,[3.2e-3,2.6e-3,2e-3,1.4e-3,6e-4]],[243,[3.5e-3,2.8e-3,2.2e-3,4.5e-4]],[246,[3e-3,2.4e-3,1.6e-3,5.8e-4]],[249,[2.8e-3,1.4e-3,4e-4,1.5e-4]]];
const greenExtra=[[55.5,[4.3e-3,3.3e-3,2.5e-3,1.8e-3]],[57.5,[4.6e-3,3.5e-3,2.6e-3,1.9e-3,1.4e-3]],[59.5,[4.8e-3,3.6e-3,2.6e-3,1.9e-3,1.3e-3,1e-3]],[61.5,[4.6e-3,3.4e-3,2.4e-3,1.7e-3,1.2e-3,8.5e-4]],[63.5,[4.8e-3,3.4e-3,2.4e-3,1.6e-3,1.1e-3,7.5e-4,5e-4]],[65.5,[4.8e-3,3.3e-3,2.2e-3,1.5e-3,1e-3,6.5e-4,4e-4]],[67.5,[4.7e-3,3.2e-3,2.1e-3,1.4e-3,9e-4,5.5e-4,3.5e-4]],[69.5,[5e-3,3.5e-3,2.3e-3,1.5e-3,1e-3,6e-4,3.5e-4]],[71.5,[5.5e-3,3.8e-3,2.5e-3,1.6e-3,1e-3,6e-4]],[73.5,[4.8e-3,3.3e-3,2.3e-3,1.5e-3,1e-3,7e-4]],[75.5,[3.6e-3,2.7e-3,1.9e-3,1.3e-3,8.5e-4]],[77.5,[3.1e-3,2.3e-3,1.6e-3,1.05e-3,6.5e-4,3.5e-4]],[79.5,[3.3e-3,2.4e-3,1.6e-3,9e-4,5e-4,2.5e-4,1.2e-4]],[80.5,[3.8e-3,2.6e-3,1.7e-3,1e-3,6e-4,3e-4,1.5e-4,7e-5]],[81.5,[4.2e-3,2.9e-3,1.9e-3,1.2e-3,7e-4,4e-4,2.1e-4,1.1e-4,5e-5]],[82.5,[4.3e-3,2.9e-3,1.9e-3,1.2e-3,7.5e-4,4.3e-4,2.4e-4,1.3e-4]],[83.5,[3.8e-3,2.6e-3,1.7e-3,1.05e-3,6.5e-4,3.8e-4,2.1e-4,1.1e-4]],[84.5,[3.2e-3,2.2e-3,1.5e-3,9.5e-4,5.8e-4,3.3e-4,1.8e-4]],[85.5,[2.9e-3,2e-3,1.35e-3,8.5e-4,5.2e-4,3e-4,1.6e-4]],[86.5,[2.9e-3,2e-3,1.35e-3,8.5e-4,5.2e-4,3e-4,1.7e-4,9e-5]],[87.5,[3.2e-3,2.2e-3,1.5e-3,9.5e-4,5.8e-4,3.4e-4,1.9e-4,1e-4]],[88.5,[3.8e-3,2.6e-3,1.75e-3,1.1e-3,6.5e-4,3.8e-4,2.1e-4,1.1e-4]],[89.5,[4.5e-3,3.1e-3,2.1e-3,1.35e-3,8e-4,4.5e-4,2.5e-4,1.4e-4]],[90.5,[5.2e-3,3.7e-3,2.6e-3,1.65e-3,1e-3,5.5e-4,3e-4,1.6e-4]],[91.5,[5.3e-3,3.8e-3,2.6e-3,1.7e-3,1.05e-3,6e-4,3.4e-4,1.9e-4]],[92.5,[4.8e-3,3.4e-3,2.35e-3,1.5e-3,9.5e-4,5.8e-4,3.2e-4]],[93.5,[4.2e-3,3.1e-3,2.1e-3,1.35e-3,8.5e-4,5.2e-4]],[94.5,[4.2e-3,3.1e-3,2.1e-3,1.4e-3,9e-4,5.5e-4,3e-4]],[95.5,[4.8e-3,3.5e-3,2.5e-3,1.65e-3,1.05e-3,6.5e-4,3.5e-4]],[96.5,[5.2e-3,4e-3,2.85e-3,1.9e-3,1.2e-3,7.5e-4,4.5e-4]],[97.5,[5.6e-3,4.4e-3,3.15e-3,2.1e-3,1.35e-3,8e-4,5e-4]],[98.5,[5.6e-3,4.4e-3,3.25e-3,2.2e-3,1.4e-3,8.5e-4,4.5e-4]],[99.5,[5.2e-3,4.1e-3,3.1e-3,2.1e-3,1.3e-3,7e-4]],[100.5,[5.1e-3,4.1e-3,3.1e-3,2.2e-3,1.5e-3]],[101.5,[5.3e-3,4.3e-3,3.3e-3,2.5e-3,1.8e-3]],[102.5,[5.3e-3,4.3e-3,3.35e-3,2.55e-3,1.9e-3]],[103.5,[5.1e-3,4.1e-3,3.15e-3,2.35e-3,1.7e-3]],[104.5,[4.9e-3,3.9e-3,2.9e-3,2.1e-3,1.5e-3]],[105.5,[4.6e-3,3.6e-3,2.7e-3,1.95e-3,1.4e-3]],[106.5,[4.2e-3,3.2e-3,2.4e-3,1.75e-3,1.2e-3]],[107.5,[3.7e-3,2.8e-3,2e-3,1.45e-3,1e-3]],[108.5,[3.2e-3,2.4e-3,1.75e-3,1.2e-3,8e-4]],[109.5,[2.85e-3,2.1e-3,1.5e-3,1e-3,6.5e-4,4.5e-4]],[110.5,[2.6e-3,1.9e-3,1.3e-3,8.5e-4,5.5e-4,3e-4]],[111.5,[2.45e-3,1.75e-3,1.15e-3,7.5e-4,4.5e-4,2.5e-4]],[112.5,[2.5e-3,1.8e-3,1.2e-3,7.5e-4,4.5e-4]],[113.5,[2.8e-3,2e-3,1.4e-3,9e-4,5.5e-4]],[114.5,[3.2e-3,2.4e-3,1.65e-3,1.1e-3,6.5e-4]],[115.5,[3.4e-3,2.5e-3,1.7e-3,1.1e-3,6.5e-4]],[116.5,[3e-3,2.2e-3,1.5e-3,9.5e-4,5.5e-4]],[117.5,[2.65e-3,1.9e-3,1.3e-3,8.5e-4,4.8e-4]],[118.5,[2.35e-3,1.7e-3,1.15e-3,7.5e-4]],[119.5,[2.1e-3,1.55e-3,1.05e-3,6.8e-4]],[121.5,[2.3e-3,1.8e-3,1.3e-3,9e-4]],[123,[2.6e-3,2e-3,1.5e-3,1.1e-3]],[125,[2.9e-3,2.3e-3,1.7e-3,1.25e-3]],[127,[3.1e-3,2.5e-3,1.9e-3,1.4e-3,9e-4]],[129,[3.1e-3,2.45e-3,1.85e-3,1.35e-3,8.5e-4]],[131,[2.8e-3,2.15e-3,1.6e-3,1.1e-3,6.5e-4,4e-4]],[133,[2.5e-3,1.9e-3,1.4e-3,9.5e-4,5.8e-4,3.3e-4]],[135,[2.3e-3,1.7e-3,1.2e-3,8e-4,5e-4,2.8e-4,1.5e-4]],[137,[2.1e-3,1.5e-3,1.05e-3,7e-4,4.2e-4,2.4e-4,1.3e-4]],[139,[2.1e-3,1.5e-3,1.05e-3,6.8e-4,4.2e-4,2.3e-4,1.1e-4]],[141,[2.35e-3,1.7e-3,1.15e-3,7.5e-4,4.8e-4,2.8e-4,1.3e-4]],[143,[2.65e-3,1.9e-3,1.3e-3,8.5e-4,5.2e-4,3.1e-4,1.6e-4]],[145,[2.6e-3,1.85e-3,1.25e-3,8e-4,4.8e-4,2.7e-4,1.5e-4,7e-5]],[147,[2.2e-3,1.55e-3,1e-3,6.2e-4,3.5e-4,1.9e-4,1e-4,5.5e-5]],[149,[1.8e-3,1.25e-3,8e-4,4.7e-4,2.6e-4,1.4e-4,7e-5,4e-5]],[151,[1.8e-3,1.2e-3,7.5e-4,4.2e-4,2.3e-4,1.25e-4,6.5e-5,3.5e-5,1.7e-5]],[153,[2.2e-3,1.45e-3,9e-4,5.2e-4,2.9e-4,1.55e-4,8e-5,4.4e-5,2.4e-5]],[155,[2.5e-3,1.7e-3,1.1e-3,6.5e-4,3.7e-4,2e-4,1.05e-4,5.5e-5]],[157,[2.55e-3,1.75e-3,1.15e-3,6.8e-4,3.8e-4,2.1e-4,1.1e-4]],[159,[2.45e-3,1.7e-3,1.1e-3,6.8e-4,3.8e-4,2.1e-4,1.1e-4]],[161,[2.5e-3,1.8e-3,1.2e-3,7.5e-4,4.5e-4,2.6e-4,1.3e-4]],[163,[2.65e-3,1.95e-3,1.35e-3,8.5e-4,5.2e-4,3.1e-4]],[165,[2.6e-3,1.9e-3,1.35e-3,8.8e-4,5.2e-4,3e-4]],[167,[2.45e-3,1.75e-3,1.25e-3,8.2e-4,5e-4,2.8e-4]],[169,[2.3e-3,1.65e-3,1.15e-3,7.5e-4,4.5e-4,2.5e-4]],[171,[2.3e-3,1.7e-3,1.15e-3,7.5e-4,4.5e-4,2.5e-4,1.3e-4]],[173,[2.5e-3,1.85e-3,1.25e-3,8.5e-4,5.2e-4,3.1e-4,1.65e-4]],[175,[2.5e-3,1.8e-3,1.25e-3,8.5e-4,5.2e-4,3e-4,1.65e-4,9e-5]],[177,[2.3e-3,1.65e-3,1.15e-3,7.5e-4,4.6e-4,2.6e-4,1.4e-4,7.5e-5]],[179,[2.3e-3,1.65e-3,1.15e-3,7.2e-4,4.3e-4,2.5e-4,1.35e-4]],[181,[2.45e-3,1.75e-3,1.25e-3,8e-4,5e-4,2.9e-4,1.6e-4,9e-5]],[183,[2.4e-3,1.7e-3,1.2e-3,7.8e-4,4.9e-4,2.8e-4,1.6e-4,9e-5]],[185,[2.15e-3,1.5e-3,1e-3,6.2e-4,3.7e-4,2.1e-4,1.2e-4,6.5e-5]],[187,[1.9e-3,1.3e-3,8.2e-4,5e-4,2.9e-4,1.6e-4,8.5e-5,4.2e-5]],[189,[2e-3,1.4e-3,8.8e-4,5.2e-4,3e-4,1.7e-4,9e-5,4.5e-5]],[191,[3e-3,2e-3,1.3e-3,8e-4,4.7e-4,2.7e-4,1.5e-4,7.5e-5]],[193,[3.8e-3,2.6e-3,1.75e-3,1.1e-3,6.8e-4,4e-4,2.3e-4,1.25e-4]],[195,[3.6e-3,2.55e-3,1.75e-3,1.15e-3,7.2e-4,4.5e-4,2.6e-4]],[197,[2.9e-3,2e-3,1.45e-3,1e-3,6.2e-4,3.8e-4,2.1e-4]],[199,[2.45e-3,1.7e-3,1.2e-3,8.2e-4,5e-4,2.9e-4,1.55e-4]],[201,[2.25e-3,1.55e-3,1.05e-3,7.2e-4,4.3e-4,2.5e-4,1.35e-4]],[203,[2.1e-3,1.45e-3,9.8e-4,6.8e-4,4.1e-4,2.35e-4,1.3e-4]],[205,[1.9e-3,1.35e-3,9.2e-4,6.2e-4,3.8e-4,2.2e-4,1.25e-4]],[207,[1.7e-3,1.2e-3,8.2e-4,5.5e-4,3.3e-4,2e-4,1.1e-4]],[209,[1.55e-3,1.05e-3,7.2e-4,4.7e-4,2.9e-4,1.7e-4,1e-4]],[211,[1.65e-3,1.15e-3,8e-4,5.2e-4,3.3e-4,1.9e-4,1.15e-4]],[213,[2e-3,1.45e-3,1e-3,6.8e-4,4.3e-4,2.6e-4,1.55e-4]],[215,[2.35e-3,1.7e-3,1.2e-3,8.2e-4,5.4e-4,3.4e-4,2e-4]],[217,[2.35e-3,1.7e-3,1.2e-3,8.5e-4,5.5e-4,3.4e-4]],[219,[2.1e-3,1.5e-3,1.05e-3,7.5e-4,4.7e-4,2.9e-4]],[221,[2.1e-3,1.5e-3,1.05e-3,7.5e-4,4.7e-4,2.9e-4]],[223,[2.4e-3,1.75e-3,1.2e-3,8.5e-4,5.5e-4,3.4e-4]],[225,[2.8e-3,2.05e-3,1.45e-3,1e-3,6.8e-4,4.3e-4]],[227,[3.1e-3,2.35e-3,1.7e-3,1.2e-3,8.2e-4,5.4e-4]],[229.5,[3.35e-3,2.65e-3,1.95e-3,1.4e-3,9.5e-4,6.2e-4]],[232.5,[3.55e-3,2.85e-3,2.15e-3,1.55e-3,1.05e-3,6.8e-4]],[235.5,[3.5e-3,2.8e-3,2.1e-3,1.55e-3,1e-3]],[238.5,[3.3e-3,2.65e-3,2e-3,1.45e-3,9e-4]],[241.5,[3.35e-3,2.7e-3,2.1e-3,1.4e-3]],[244.5,[3.25e-3,2.6e-3,1.9e-3,1.2e-3]]];
const xTickExps=[1,2];
const yTickExps=[0,-1,-2,-3,-4,-5];

const NS="http://www.w3.org/2000/svg";
const X0=325,X1=1395,Y0=58,Y1=1015;
const xMin=Math.log10(7.63),xMax=Math.log10(296.9);
const yMax=Math.log10(4.0),yMin=-5.219;
function xs(v){return X0+(Math.log10(v)-xMin)/(xMax-xMin)*(X1-X0);}
function ys(v){return Y0+(yMax-Math.log10(v))/(yMax-yMin)*(Y1-Y0);}
const marks=document.getElementById('marks');
const ticks=document.getElementById('ticks');
function mk(tag,attrs,parent){const e=document.createElementNS(NS,tag);for(const k in attrs)e.setAttribute(k,attrs[k]);parent.appendChild(e);return e;}

const gb=mk('g',{fill:'none',stroke:'#1f77b4','stroke-width':1.8},marks);


blueData.concat(blueExtra).forEach(([f,rs])=>rs.forEach(r=>{
  const c=mk('circle',{cx:xs(f).toFixed(1),cy:ys(r).toFixed(1),r:4.5},gb);
  
  
}));
const go=mk('g',{fill:'none',stroke:'#ff7f0e','stroke-width':1.8},marks);


orangeData.concat(orangeExtra).forEach(([f,rs])=>rs.forEach(r=>{
  const x=xs(f),y=ys(r);
  const p=mk('polygon',{points:`${x.toFixed(1)},${(y-5).toFixed(1)} ${(x+5).toFixed(1)},${(y+4).toFixed(1)} ${(x-5).toFixed(1)},${(y+4).toFixed(1)}`},go);
  
  
}));
const gg=mk('g',{fill:'none',stroke:'#2ca02c','stroke-width':1.8},marks);


greenData.concat(greenExtra).forEach(([f,rs])=>rs.forEach(r=>{
  const x=xs(f),y=ys(r);
  const s=mk('rect',{x:(x-4.5).toFixed(1),y:(y-4.5).toFixed(1),width:9,height:9},gg);
  
  
}));

function tl(x1,y1,x2,y2,w){mk('line',{x1,y1,x2,y2,stroke:'#000','stroke-width':w},ticks);}
for(let e=0;e<=2;e++){for(let m=1;m<=9;m++){const v=m*Math.pow(10,e);const x=xs(v);if(x<X0||x>X1)continue;const L=m===1?10:5,w=m===1?2:1.5;tl(x,Y1,x,Y1-L,w);tl(x,Y0,x,Y0+L,w);}}
for(let e=-6;e<=0;e++){for(let m=1;m<=9;m++){const v=m*Math.pow(10,e);const y=ys(v);if(y<Y0||y>Y1)continue;const L=m===1?10:5,w=m===1?2:1.5;tl(X0,y,X0+L,y,w);tl(X1,y,X1-L,y,w);}}
xTickExps.forEach(e=>{
  const t=mk('text',{x:xs(Math.pow(10,e))-8,y:1094,'font-size':52,'text-anchor':'middle'},ticks);
  
  
  t.innerHTML='10<tspan dy="-21" font-size="37">'+e+'</tspan>';
});
yTickExps.forEach(e=>{
  const t=mk('text',{x:291,y:ys(Math.pow(10,e))+19,'font-size':52,'text-anchor':'end'},ticks);
  
  
  t.innerHTML='10<tspan dy="-21" font-size="37">'+(e<0?'−'+(-e):e)+'</tspan>';
});
</script>
</body></html>
